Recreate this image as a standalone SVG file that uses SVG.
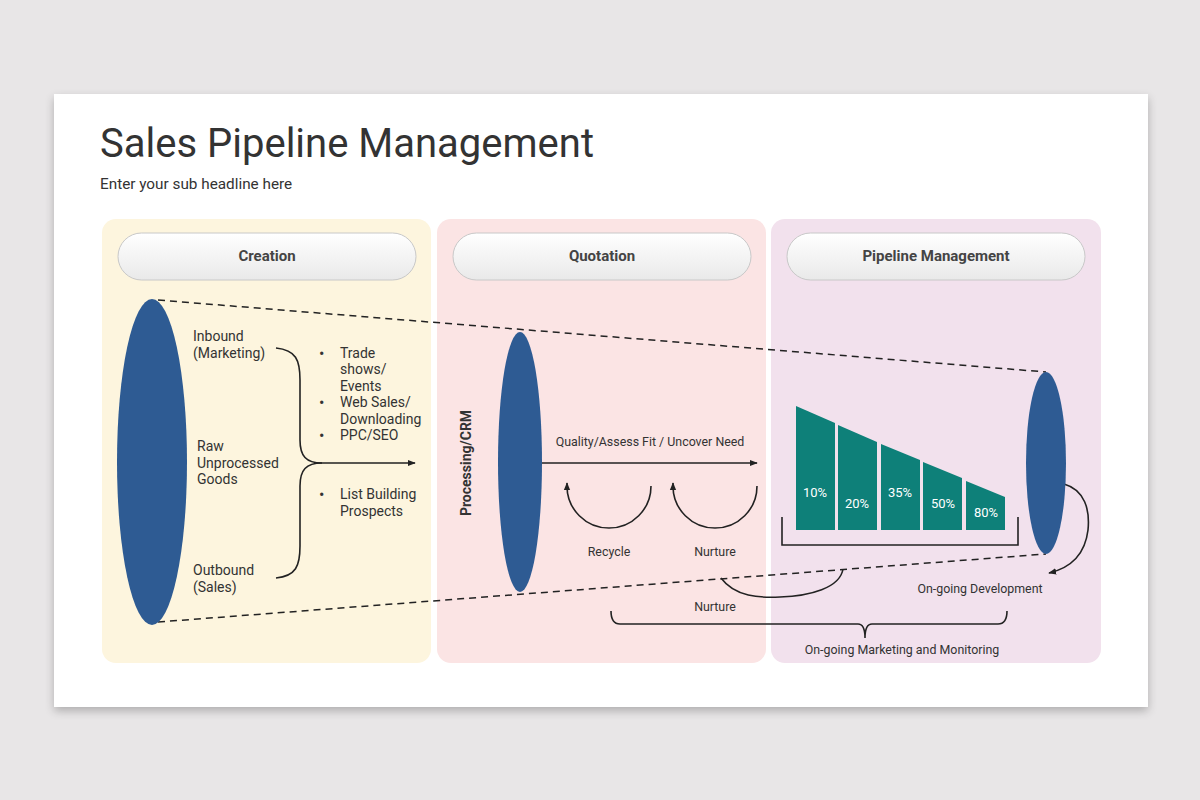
<svg xmlns="http://www.w3.org/2000/svg" width="1200" height="800" viewBox="0 0 1200 800">
<defs>
<linearGradient id="pill" x1="0" y1="0" x2="0" y2="1">
<stop offset="0" stop-color="#ffffff"/>
<stop offset="1" stop-color="#e9e9e9"/>
</linearGradient>
<filter id="sh" x="-5%" y="-5%" width="110%" height="115%">
<feGaussianBlur in="SourceAlpha" stdDeviation="5"/>
<feOffset dx="0" dy="4"/>
<feComponentTransfer><feFuncA type="linear" slope="0.25"/></feComponentTransfer>
<feMerge><feMergeNode/><feMergeNode in="SourceGraphic"/></feMerge>
</filter>
<marker id="ah" viewBox="0 0 10 10" refX="9" refY="5" markerWidth="8" markerHeight="8" markerUnits="userSpaceOnUse" orient="auto">
<path d="M0,1 L10,5 L0,9 z" fill="#222"/>
</marker>
</defs>
<style>
text{font-family:Roboto,"Liberation Sans",sans-serif;fill:#333}
.t{font-size:14px}
.b{font-size:16px}
.s{font-size:12.4px}
.p{font-size:15px;font-weight:bold;fill:#444;text-anchor:middle}
.pc{fill:url(#pill);stroke:#c8c8c8;stroke-width:1}
.el{fill:#2e5b93}
.ln{fill:none;stroke:#222;stroke-width:1.6}
.ds{fill:none;stroke:#222;stroke-width:1.5;stroke-dasharray:7 5}
.bar{fill:#0e8079}
.bt{font-size:13px;fill:#fff;text-anchor:middle}
</style>
<rect width="1200" height="800" fill="#e8e6e7"/>
<rect x="54" y="94" width="1094" height="613" fill="#ffffff" filter="url(#sh)"/>
<text x="100" y="157" style="font-size:40px">Sales Pipeline Management</text>
<text x="100" y="189" style="font-size:15.3px">Enter your sub headline here</text>

<g id="panel-creation">
<rect x="102" y="219" width="329" height="444" rx="14" fill="#fdf5de"/>
<rect class="pc" x="118" y="233" width="298" height="47" rx="23.5"/>
<text class="p" x="267" y="261">Creation</text>
</g>
<g id="panel-quotation">
<rect x="437" y="219" width="329" height="444" rx="14" fill="#fbe4e4"/>
<rect class="pc" x="453" y="233" width="298" height="47" rx="23.5"/>
<text class="p" x="602" y="261">Quotation</text>
</g>
<g id="panel-pipeline">
<rect x="771" y="219" width="330" height="444" rx="14" fill="#f2e1ed"/>
<rect class="pc" x="787" y="233" width="298" height="47" rx="23.5"/>
<text class="p" x="936" y="261">Pipeline Management</text>
</g>

<g id="connectors">
<line class="ds" x1="158" y1="300" x2="1046" y2="372"/>
<line class="ds" x1="158" y1="622" x2="1046" y2="554"/>
<path class="ln" d="M276,348 C296,350 300,360 300,380 L300,440 C300,456 306,463 322,463 L415,463" marker-end="url(#ah)"/>
<path class="ln" d="M276,578 C296,576 300,566 300,546 L300,486 C300,470 306,463 322,463"/>
<line class="ln" x1="542" y1="463" x2="757" y2="463" marker-end="url(#ah)"/>
<path class="ln" d="M651,486 A42,42 0 0 1 567,486 L567,483" marker-end="url(#ah)"/>
<path class="ln" d="M757,486 A42,42 0 0 1 673,486 L673,483" marker-end="url(#ah)"/>
<path class="ln" d="M721,578 C735,597 760,598 780,597 C810,596 840,588 843,569"/>
<path class="ln" d="M1064,484 C1085,490 1090,510 1088,530 C1085,555 1070,568 1049,573" marker-end="url(#ah)"/>
<path class="ln" d="M782,517 L782,545 L1018,545 L1018,517"/>
<path class="ln" d="M611,611 Q611,624 620,624 L858,624 Q865,624 865,638 Q865,624 872,624 L998,624 Q1007,624 1007,611"/>
</g>

<g id="node-raw">
<ellipse class="el" cx="152" cy="462" rx="35" ry="163"/>
<text class="t" x="193" y="341">Inbound</text>
<text class="t" x="193" y="358">(Marketing)</text>
<text class="t" x="197" y="451">Raw</text>
<text class="t" x="197" y="468">Unprocessed</text>
<text class="t" x="197" y="484">Goods</text>
<text class="t" x="193" y="575">Outbound</text>
<text class="t" x="193" y="592">(Sales)</text>
</g>
<g id="node-channels">
<text class="b" x="319" y="359">•</text>
<text class="t" x="340" y="358">Trade</text>
<text class="t" x="340" y="374">shows/</text>
<text class="t" x="340" y="391">Events</text>
<text class="b" x="319" y="408">•</text>
<text class="t" x="340" y="407">Web Sales/</text>
<text class="t" x="340" y="424">Downloading</text>
<text class="b" x="319" y="441">•</text>
<text class="t" x="340" y="440">PPC/SEO</text>
<text class="b" x="319" y="500">•</text>
<text class="t" x="340" y="499">List Building</text>
<text class="t" x="340" y="516">Prospects</text>
</g>
<g id="node-crm">
<ellipse class="el" cx="520" cy="462" rx="22" ry="130"/>
<text x="471" y="463" transform="rotate(-90 471 463)" text-anchor="middle" style="font-size:14px;font-weight:bold">Processing/CRM</text>
<text class="s" x="650" y="446" text-anchor="middle">Quality/Assess Fit / Uncover Need</text>
<text class="s" x="609" y="556" text-anchor="middle">Recycle</text>
<text class="s" x="715" y="556" text-anchor="middle">Nurture</text>
<text class="s" x="715" y="611" text-anchor="middle">Nurture</text>
</g>
<g id="node-chart">
<polygon class="bar" points="796,406 835,423 835,530 796,530"/>
<polygon class="bar" points="838,425 877,442 877,530 838,530"/>
<polygon class="bar" points="881,444 920,460 920,530 881,530"/>
<polygon class="bar" points="923,462 962,478 962,530 923,530"/>
<polygon class="bar" points="966,481 1005,497 1005,530 966,530"/>
<text class="bt" x="815" y="497">10%</text>
<text class="bt" x="857" y="508">20%</text>
<text class="bt" x="900" y="497">35%</text>
<text class="bt" x="943" y="508">50%</text>
<text class="bt" x="986" y="517">80%</text>
</g>
<g id="node-pipeline">
<ellipse class="el" cx="1046" cy="463" rx="20" ry="91"/>
<text class="s" x="980" y="593" text-anchor="middle">On-going Development</text>
<text class="s" x="902" y="654" text-anchor="middle">On-going Marketing and Monitoring</text>
</g>
</svg>
